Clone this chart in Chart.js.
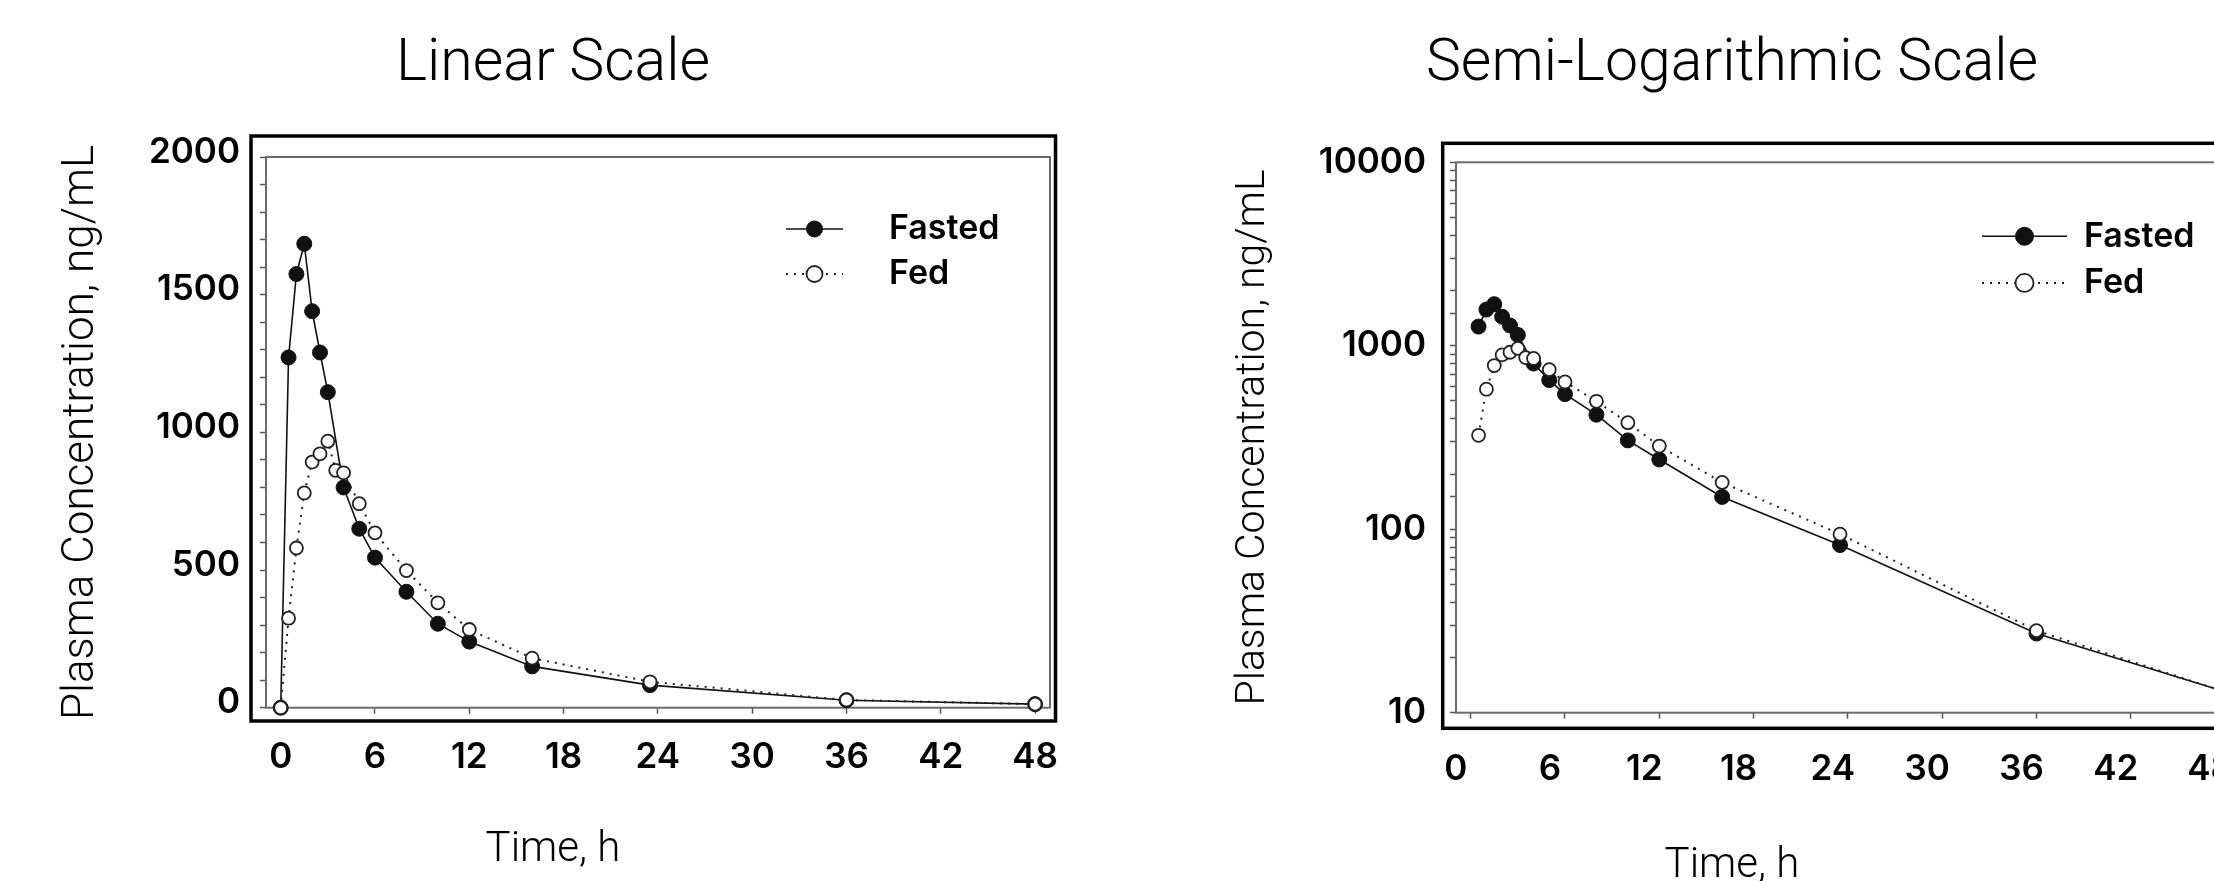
<!DOCTYPE html>
<html>
<head>
<meta charset="utf-8">
<script src="https://cdn.jsdelivr.net/npm/chart.js@4.4.1/dist/chart.umd.min.js"></script>
<style>
  html, body { margin: 0; padding: 0; background: #fff; }
  body { width: 2214px; height: 881px; overflow: hidden; position: relative; }
  #linearChart { position: absolute; left: 0; top: 0; width: 1096px; height: 881px; }
  #logChart { position: absolute; left: 1100px; top: 0; width: 1200px; height: 900px; }
</style>
</head>
<body>
<canvas id="linearChart" width="1096" height="881"></canvas>
<canvas id="logChart" width="1200" height="900"></canvas>
<script>
// * Data (time in h, concentration in ng/mL)
const fastedTime = [0, 0.5, 1, 1.5, 2, 2.5, 3, 4, 5, 6, 8, 10, 12, 16, 23.5, 36, 48];
const fastedConc = [0, 1272, 1575, 1685, 1440, 1290, 1146, 800, 650, 545, 421, 305, 240, 150, 82, 27, 13];

const fedTime = [0, 0.5, 1, 1.5, 2, 2.5, 3, 3.5, 4, 5, 6, 8, 10, 12, 16, 23.5, 36, 48];
const fedConc = [0, 325, 580, 780, 892, 922, 968, 862, 853, 741, 635, 498, 381, 284, 180, 94, 28, 13];

const timeTicks = [0, 6, 12, 18, 24, 30, 36, 42, 48];
const seriesLabels = ["Fasted", "Fed"];

// * Shared styles
const tickFont = { family: "Inter", weight: 600, size: 35 };
const lightFont = (size) => ({ family: "Roboto", weight: 300, size: size });
const tickGrid = {
  drawOnChartArea: false,
  drawTicks: true,
  tickLength: 6,
  tickColor: "#555",
  tickWidth: 1.5,
};

// * Plugins
const framePlugin = {
  id: "frame",
  beforeDatasetsDraw(chart, args, opts) {
    const { ctx, chartArea: a } = chart;
    ctx.save();
    ctx.strokeStyle = "#6b6b6b";
    ctx.lineWidth = 2;
    ctx.strokeRect(a.left, a.top, a.right - a.left, a.bottom - a.top);
    ctx.strokeStyle = "#000";
    ctx.lineWidth = 3.5;
    ctx.strokeRect(
      a.left - opts.left,
      a.top - opts.top,
      a.right - a.left + opts.left + opts.right,
      a.bottom - a.top + opts.top + opts.bottom
    );
    ctx.restore();
  },
};

const keyPlugin = {
  id: "key",
  afterDatasetsDraw(chart, args, opts) {
    const { ctx, chartArea: a } = chart;
    ctx.save();
    chart.data.datasets.forEach((ds, i) => {
      const x0 = a.left + opts.x;
      const y = a.top + opts.y + i * opts.rowGap;

      ctx.beginPath();
      ctx.setLineDash(ds.borderDash || []);
      ctx.strokeStyle = ds.borderColor;
      ctx.lineWidth = ds.borderWidth;
      ctx.moveTo(x0, y);
      ctx.lineTo(x0 + opts.lineLength, y);
      ctx.stroke();
      ctx.setLineDash([]);

      ctx.fillStyle = ds.pointBackgroundColor;
      ctx.strokeStyle = ds.pointBorderColor;
      ctx.lineWidth = ds.pointBorderWidth;
      Chart.helpers.drawPoint(
        ctx,
        { pointStyle: "circle", radius: opts.radius, borderWidth: ds.pointBorderWidth, rotation: 0 },
        x0 + opts.lineLength / 2,
        y
      );

      ctx.fillStyle = "#000";
      ctx.font = opts.font;
      ctx.textAlign = "left";
      ctx.textBaseline = "middle";
      ctx.fillText(ds.label, x0 + opts.lineLength + opts.gap, y);
    });
    ctx.restore();
  },
};

// * Functions
function toPoints(times, values, dropZero) {
  return times.map((t, i) => ({ x: t, y: dropZero && values[i] <= 0 ? null : values[i] }));
}

function makeDatasets(dropZero) {
  return [
    {
      label: seriesLabels[0],
      data: toPoints(fastedTime, fastedConc, dropZero),
      borderColor: "#111",
      borderWidth: 1.6,
      pointRadius: 7.5,
      pointBackgroundColor: "#111",
      pointBorderColor: "#111",
      pointBorderWidth: 1,
      tension: 0,
      clip: false,
      order: 1,
    },
    {
      label: seriesLabels[1],
      data: toPoints(fedTime, fedConc, dropZero),
      borderColor: "#222",
      borderWidth: 2,
      borderDash: [2, 6],
      pointRadius: 6.5,
      pointBackgroundColor: "#fff",
      pointBorderColor: "#222",
      pointBorderWidth: 1.8,
      tension: 0,
      clip: false,
      order: 0,
    },
  ];
}

function createChart(id, setup) {
  const canvas = document.getElementById(id);
  return new Chart(canvas.getContext("2d"), {
    type: "line",
    data: { datasets: makeDatasets(setup.log) },
    plugins: [framePlugin, keyPlugin],
    options: {
      responsive: false,
      animation: false,
      devicePixelRatio: 1,
      spanGaps: true,
      layout: { padding: setup.padding },
      plugins: {
        legend: { display: false },
        tooltip: { enabled: false },
        title: {
          display: true,
          text: setup.title,
          color: "#000",
          font: lightFont(59),
          padding: { top: 30, bottom: setup.titleGap },
        },
        subtitle: {
          display: true,
          position: "bottom",
          text: "Time, h",
          color: "#000",
          font: lightFont(42),
          padding: { top: 0, bottom: setup.subGap },
        },
        frame: setup.frame,
        key: setup.key,
      },
      scales: {
        x: {
          type: "linear",
          min: -0.935,
          max: 48.95,
          afterBuildTicks: (s) => {
            s.ticks = timeTicks.map((v) => ({ value: v }));
          },
          afterFit: (s) => {
            s.height = setup.xHeight;
          },
          grid: tickGrid,
          border: { display: false },
          ticks: {
            font: tickFont,
            color: "#000",
            padding: setup.xPad,
            labelOffset: setup.xLabelOffset,
            autoSkip: false,
            maxRotation: 0,
          },
        },
        y: setup.y,
      },
    },
  });
}

// * Onload
createChart("linearChart", {
  log: false,
  title: "Linear Scale",
  titleGap: 56.2,
  subGap: 5.8,
  padding: { left: 56, right: 46, top: 0, bottom: 0 },
  xHeight: 117.1,
  xPad: 23,
  xLabelOffset: 0,
  frame: { left: 15, top: 21, right: 5.5, bottom: 13.3 },
  key: { x: 520, y: 72, rowGap: 45, lineLength: 57, gap: 46, radius: 8, font: "600 34px Inter" },
  y: {
    type: "linear",
    min: 0,
    max: 2000,
    afterFit: (s) => {
      s.width = 210;
    },
    grid: tickGrid,
    border: { display: false },
    ticks: {
      stepSize: 100,
      maxTicksLimit: 21,
      autoSkip: false,
      padding: 20,
      labelOffset: -5,
      font: tickFont,
      color: "#000",
      callback: (v) => (v % 500 === 0 ? String(v) : ""),
    },
    title: {
      display: true,
      text: "Plasma Concentration, ng/mL",
      color: "#000",
      font: lightFont(44),
      padding: { top: 0, bottom: 0 },
    },
  },
});

createChart("logChart", {
  log: true,
  title: "Semi-Logarithmic Scale",
  titleGap: 61.5,
  subGap: 8.8,
  padding: { left: 124, right: 60, top: 0, bottom: 0 },
  xHeight: 128.1,
  xPad: 30,
  xLabelOffset: -15,
  frame: { left: 13.3, top: 19, right: 5.5, bottom: 15.6 },
  key: { x: 526, y: 74, rowGap: 46.6, lineLength: 85, gap: 17, radius: 9, font: "600 34px Inter" },
  y: {
    type: "logarithmic",
    min: 10,
    max: 10000,
    afterFit: (s) => {
      s.width = 232;
    },
    grid: tickGrid,
    border: { display: false },
    ticks: {
      autoSkip: false,
      padding: 24,
      font: tickFont,
      color: "#000",
      callback: (v) => (Number.isInteger(Math.log10(v)) ? String(v) : ""),
    },
    title: {
      display: true,
      text: "Plasma Concentration, ng/mL",
      color: "#000",
      font: lightFont(41),
      padding: { top: 5, bottom: 0 },
    },
  },
});
</script>
</body>
</html>
